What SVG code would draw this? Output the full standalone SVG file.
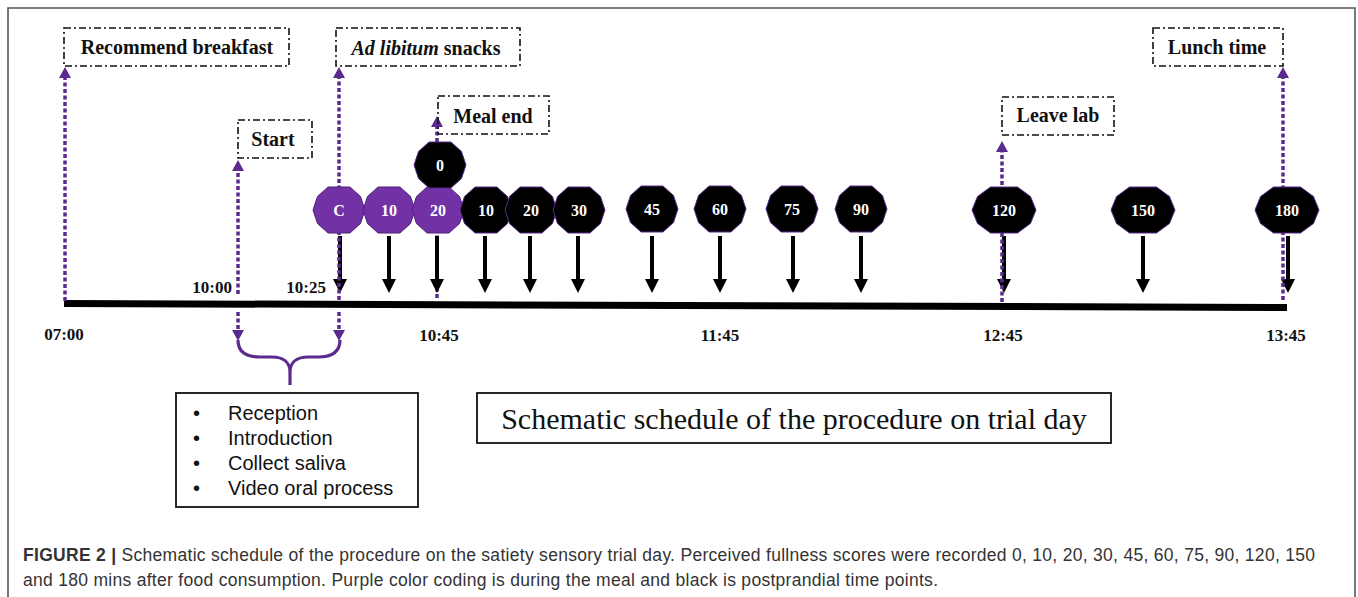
<svg xmlns="http://www.w3.org/2000/svg" xmlns:xlink="http://www.w3.org/1999/xlink" width="1358" height="597" viewBox="0 0 1358 597">
<style>
.lbl{font-family:"Liberation Serif","Times New Roman",serif;font-weight:bold;font-size:20px;fill:#111;text-anchor:middle}
.box{fill:none;stroke:#111;stroke-width:1.6;stroke-dasharray:7 3 2 3}
.dot{stroke:#5b2a8e;stroke-width:3.5;stroke-dasharray:4 2.5;fill:none}
.ph{fill:#5b2a8e}
.time{font-family:"Liberation Serif","Times New Roman",serif;font-weight:bold;font-size:17px;fill:#111}
.ntxt{font-family:"Liberation Serif","Times New Roman",serif;font-weight:bold;font-size:16px;fill:#fff;text-anchor:middle}
.blk{fill:#000;stroke:#5b2a8e;stroke-width:1}
.pur{fill:#7232a6;stroke:#4e2378;stroke-width:1}
.list{font-family:"Liberation Sans",Arial,sans-serif;font-size:20px;fill:#111}
.cap{font-family:"Liberation Sans",Arial,sans-serif;font-size:17.5px;fill:#333}
</style>
<defs>
<polygon id="decS" points="26,0 21.5,-13.5 11,-23 -11,-23 -21.5,-13.5 -26,0 -21.5,13.5 -11,23 11,23 21.5,13.5"/>
<polygon id="decL" points="32,0 26.5,-13.5 13.5,-23 -13.5,-23 -26.5,-13.5 -32,0 -26.5,13.5 -13.5,23 13.5,23 26.5,13.5"/>
<g id="darr"><line x1="0" y1="0" x2="0" y2="45" stroke="#000" stroke-width="4"/><polygon points="-7,43 7,43 0,57" fill="#000"/></g>
<polygon id="uph" points="-6,11 6,11 0,0"/>
<polygon id="dnh" points="-6,0 6,0 0,11"/>
</defs>
<rect x="0" y="0" width="1358" height="597" fill="#fff"/>
<g id="frame" fill="none" stroke="#555" stroke-width="1.6"><path d="M8,597 L8,8 L1355,8 L1355,597"/></g>

<g id="connectors">
<line x1="64" y1="303.5" x2="1287" y2="307.5" stroke="#000" stroke-width="7"/>
<line class="dot" x1="437" y1="298" x2="437" y2="127"/>
<use xlink:href="#uph" class="ph" x="437" y="116"/>
<use xlink:href="#darr" x="340" y="236"/>
<use xlink:href="#darr" x="389" y="236"/>
<use xlink:href="#darr" x="437" y="236"/>
<use xlink:href="#darr" x="485" y="236"/>
<use xlink:href="#darr" x="530" y="236"/>
<use xlink:href="#darr" x="578" y="236"/>
<use xlink:href="#darr" x="652" y="236"/>
<use xlink:href="#darr" x="720" y="236"/>
<use xlink:href="#darr" x="793" y="236"/>
<use xlink:href="#darr" x="861" y="236"/>
<use xlink:href="#darr" x="1004" y="236"/>
<use xlink:href="#darr" x="1143" y="236"/>
<use xlink:href="#darr" x="1288" y="236"/>
<line class="dot" x1="65" y1="301" x2="65" y2="78"/>
<use xlink:href="#uph" class="ph" x="65" y="67"/>
<line class="dot" x1="238" y1="294" x2="238" y2="171"/>
<use xlink:href="#uph" class="ph" x="238" y="160"/>
<line class="dot" x1="339" y1="300" x2="339" y2="78"/>
<use xlink:href="#uph" class="ph" x="339" y="67"/>
<line class="dot" x1="1002" y1="302" x2="1002" y2="152"/>
<use xlink:href="#uph" class="ph" x="1002" y="141"/>
<line class="dot" x1="1283" y1="300" x2="1283" y2="78"/>
<use xlink:href="#uph" class="ph" x="1283" y="67"/>
<line class="dot" x1="238" y1="312" x2="238" y2="331"/>
<use xlink:href="#dnh" class="ph" x="238" y="330"/>
<line class="dot" x1="339" y1="312" x2="339" y2="331"/>
<use xlink:href="#dnh" class="ph" x="339" y="330"/>
<path d="M238,340 C238,352 246,357 260,357 L272,357 C284,357 290,363 290,372 L290,385 M340,340 C340,352 332,357 318,357 L308,357 C296,357 290,363 290,372" fill="none" stroke="#5b2a8e" stroke-width="3.2"/>
</g>

<g id="node-recommend-breakfast"><rect class="box" x="64" y="28" width="225" height="38"/><text class="lbl" x="177" y="54">Recommend breakfast</text></g>
<g id="node-start"><rect class="box" x="238" y="120" width="74" height="38"/><text class="lbl" x="273" y="146">Start</text></g>
<g id="node-ad-libitum"><rect class="box" x="336" y="28" width="184" height="38"/><text class="lbl" x="426" y="55"><tspan font-style="italic">Ad libitum</tspan> snacks</text></g>
<g id="node-meal-end"><rect class="box" x="438" y="96" width="111" height="38"/><text class="lbl" x="493" y="123">Meal end</text></g>
<g id="node-leave-lab"><rect class="box" x="1002" y="97" width="112" height="38"/><text class="lbl" x="1058" y="122">Leave lab</text></g>
<g id="node-lunch-time"><rect class="box" x="1153" y="28" width="130" height="38"/><text class="lbl" x="1217" y="54">Lunch time</text></g>

<g id="node-c"><use xlink:href="#decS" class="pur" x="339" y="210"/><text class="ntxt" x="339" y="216">C</text></g>
<g id="node-p10"><use xlink:href="#decS" class="pur" x="389" y="210"/><text class="ntxt" x="389" y="216">10</text></g>
<g id="node-p20"><use xlink:href="#decS" class="pur" x="438" y="210"/><text class="ntxt" x="438" y="216">20</text></g>
<g id="node-0"><use xlink:href="#decS" class="blk" x="440" y="165"/><text class="ntxt" x="440" y="171">0</text></g>
<g id="node-10"><use xlink:href="#decS" class="blk" x="486" y="210"/><text class="ntxt" x="486" y="216">10</text></g>
<g id="node-20"><use xlink:href="#decS" class="blk" x="531" y="210"/><text class="ntxt" x="531" y="216">20</text></g>
<g id="node-30"><use xlink:href="#decS" class="blk" x="579" y="210"/><text class="ntxt" x="579" y="216">30</text></g>
<g id="node-45"><use xlink:href="#decS" class="blk" x="652" y="209"/><text class="ntxt" x="652" y="215">45</text></g>
<g id="node-60"><use xlink:href="#decS" class="blk" x="720" y="209"/><text class="ntxt" x="720" y="215">60</text></g>
<g id="node-75"><use xlink:href="#decS" class="blk" x="792" y="209"/><text class="ntxt" x="792" y="215">75</text></g>
<g id="node-90"><use xlink:href="#decS" class="blk" x="861" y="209"/><text class="ntxt" x="861" y="215">90</text></g>
<g id="node-120"><use xlink:href="#decL" class="blk" x="1004" y="210"/><text class="ntxt" x="1004" y="216">120</text></g>
<g id="node-150"><use xlink:href="#decL" class="blk" x="1143" y="210"/><text class="ntxt" x="1143" y="216">150</text></g>
<g id="node-180"><use xlink:href="#decL" class="blk" x="1287" y="210"/><text class="ntxt" x="1287" y="216">180</text></g>

<g id="time-labels">
<text class="time" x="64" y="340" text-anchor="middle">07:00</text>
<text class="time" x="232" y="293" text-anchor="end">10:00</text>
<text class="time" x="326" y="293" text-anchor="end">10:25</text>
<text class="time" x="439" y="341" text-anchor="middle">10:45</text>
<text class="time" x="720" y="341" text-anchor="middle">11:45</text>
<text class="time" x="1003" y="341" text-anchor="middle">12:45</text>
<text class="time" x="1286" y="341" text-anchor="middle">13:45</text>
</g>

<g id="node-activities">
<rect x="176" y="393" width="242" height="114" fill="none" stroke="#111" stroke-width="1.8"/>
<text class="list" x="193" y="420">•</text><text class="list" x="228" y="420">Reception</text>
<text class="list" x="193" y="445">•</text><text class="list" x="228" y="445">Introduction</text>
<text class="list" x="193" y="470">•</text><text class="list" x="228" y="470">Collect saliva</text>
<text class="list" x="193" y="495">•</text><text class="list" x="228" y="495">Video oral process</text>
</g>

<g id="node-title">
<rect x="477" y="393" width="634" height="50" fill="none" stroke="#111" stroke-width="1.8"/>
<text x="794" y="429" text-anchor="middle" font-family="'Liberation Serif','Times New Roman',serif" font-size="30" fill="#111">Schematic schedule of the procedure on trial day</text>
</g>

<g id="caption">
<text class="cap" x="23" y="561" textLength="1292" lengthAdjust="spacing"><tspan font-weight="bold">FIGURE 2 |</tspan> Schematic schedule of the procedure on the satiety sensory trial day. Perceived fullness scores were recorded 0, 10, 20, 30, 45, 60, 75, 90, 120, 150</text>
<text class="cap" x="23" y="586" textLength="915" lengthAdjust="spacing">and 180 mins after food consumption. Purple color coding is during the meal and black is postprandial time points.</text>
</g>
</svg>
